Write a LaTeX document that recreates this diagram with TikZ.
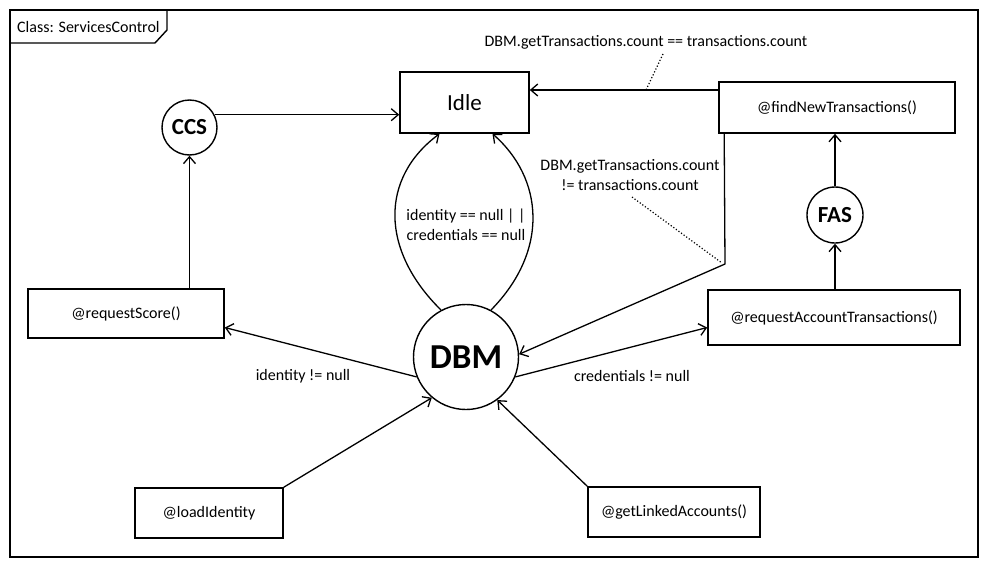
\documentclass[tikz,border=0pt]{standalone}
\usepackage{fontspec}
\setmainfont{Carlito}
\usetikzlibrary{arrows.meta,calc}
\begin{document}
\begin{tikzpicture}[x=1pt,y=-1pt,
  box/.style={draw,line width=1.6pt,rectangle,inner sep=0pt,font=\fontsize{16}{18}\selectfont},
  circ/.style={draw,line width=1.4pt,circle,inner sep=0pt,font=\bfseries\fontsize{23}{25}\selectfont},
  conn/.style={line width=1.3pt,-{Straight Barb[length=7pt,width=12pt,line width=1.3pt]}},
  lbl/.style={font=\fontsize{16}{20}\selectfont,inner sep=0pt,align=center},
  dot/.style={line width=1.2pt,dotted}]
\useasboundingbox (0,0) rectangle (989,568);
% frame
\draw[line width=1.8pt] (10,10) rectangle (978,557);
\draw[line width=1.4pt] (10,43) -- (155,43) -- (167,30) -- (167,10);
\node[lbl,anchor=west] (title) at (17,27) {Class: ServicesControl};
% nodes
\node[box,minimum width=129pt,minimum height=61pt,font=\fontsize{23}{25}\selectfont] (idle) at (464.5,102.5) {Idle};
\node[box,minimum width=236pt,minimum height=51pt] (find) at (837,107.5) {@findNewTransactions()};
\node[box,minimum width=196pt,minimum height=49pt] (rs) at (126,313.5) {@requestScore()};
\node[box,minimum width=252pt,minimum height=55pt] (rat) at (834,317.5) {@requestAccountTransactions()};
\node[box,minimum width=148pt,minimum height=50pt] (li) at (209,513) {@loadIdentity};
\node[box,minimum width=172pt,minimum height=50pt] (gla) at (674,512) {@getLinkedAccounts()};
\node[circ,minimum size=55pt] (ccs) at (189.5,127.5) {CCS};
\node[circ,minimum size=56pt] (fas) at (835,215) {FAS};
\node[circ,minimum size=105pt,font=\bfseries\fontsize{35}{37}\selectfont] (dbm) at (466,357) {DBM};
% connectors
\draw[conn] (ccs.27) -- (ccs.27 -| idle.west);
\draw[conn] (ccs.south |- rs.north) -- (ccs.south);
\draw[conn] (dbm.202) -- ([yshift=-14pt]rs.east);
\draw[conn] (dbm.-22) -- ([yshift=-10pt]rat.west);
\draw[conn] (li.north east) -- (dbm.230);
\draw[conn] (gla.north west) -- (dbm.306);
\draw[conn] (dbm.118) .. controls (380,250) and (380,178) .. ([xshift=-25pt]idle.south);
\draw[conn] (dbm.62) .. controls (550,250) and (543,178) .. ([xshift=28pt]idle.south);
\draw[conn] ([yshift=17.5pt]find.west) -- ([yshift=17.5pt]find.west -| idle.east);
\coordinate (bend) at (725,264);
\draw[conn] ([xshift=6pt]find.south west) -- (bend) -- (dbm.3);
\draw[conn] (fas.north) -- (fas.north |- find.south);
\draw[conn] (fas.south |- rat.north) -- (fas.south);
% labels
\node[lbl] (lid) at (303,376) {identity != null};
\node[lbl] (lcr) at (632,376) {credentials != null};
\node[lbl] (lnull) at (466,225) {identity == null | |\\credentials == null};
\node[lbl] (leq) at (646,42) {DBM.getTransactions.count == transactions.count};
\node[lbl] (lneq) at (630,175) {DBM.getTransactions.count\\!= transactions.count};
\coordinate (deq) at (646,90);
\coordinate (dneq) at (722,263);
\draw[dot] (663,54) -- (deq);
\draw[dot] (632,197) -- (dneq);
\end{tikzpicture}
\end{document}
